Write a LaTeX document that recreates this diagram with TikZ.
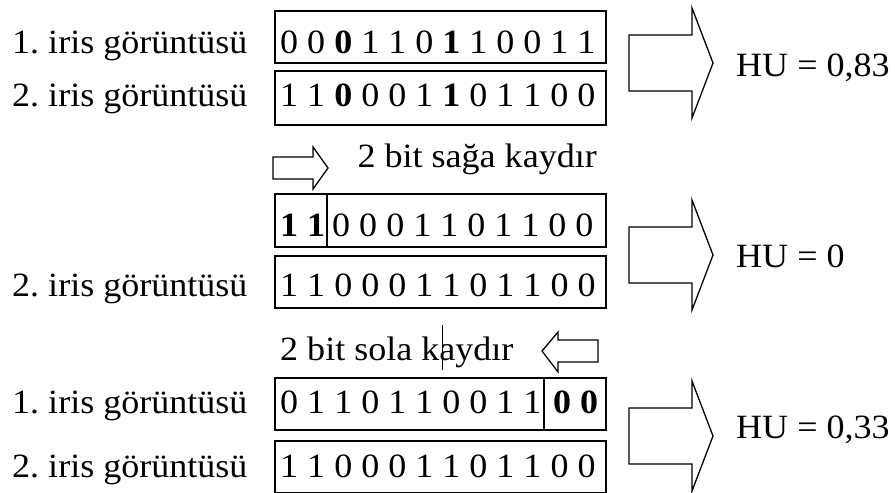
\documentclass[tikz,border=0pt]{standalone}
\usepackage{fontspec}
\setmainfont{Liberation Serif}[FakeStretch=1.06]
\frenchspacing
\begin{document}
\frenchspacing
\begin{tikzpicture}[x=1pt,y=-1pt,
  bitbox/.style={draw, line width=2pt, minimum width=331pt, inner sep=0pt, anchor=north west},
  txt/.style={inner sep=0pt, anchor=base west, font=\fontsize{34}{40}\selectfont\frenchspacing},
  txtr/.style={txt, anchor=base east},
  blockarrow/.style={draw, line width=1.3pt, line join=miter},
  divider/.style={line width=1.2pt}]
\useasboundingbox (0,0) rectangle (895,493);

% boxes
\node[bitbox, minimum height=52pt] (b1) at (274,10) {};
\node[bitbox, minimum height=54pt] (b2) at (274,70) {};
\node[bitbox, minimum height=53pt] (b3) at (274,193) {};
\node[bitbox, minimum height=52pt] (b4) at (274,255) {};
\node[bitbox, minimum height=52pt] (b5) at (274,377) {};
\node[bitbox, minimum height=52pt] (b6) at (274,440) {};

% dividers
\draw[divider] ([xshift=53pt]b3.north west) -- ([xshift=53pt]b3.south west);
\draw[divider] ([xshift=270pt]b5.north west) -- ([xshift=270pt]b5.south west);

% labels
\node[txt] (l1) at (12,53) {1. iris görüntüsü};
\node[txt] (l2) at (12,106) {2. iris görüntüsü};
\node[txt] (l4) at (12,296) {2. iris görüntüsü};
\node[txt] (l5) at (12,413) {1. iris görüntüsü};
\node[txt] (l6) at (12,477) {2. iris görüntüsü};

% bit strings
\node[txt] (t1) at (280,53) {0 0 \textbf{0} 1 1 0 \textbf{1} 1 0 0 1 1};
\node[txt] (t2) at (280,106) {1 1 \textbf{0} 0 0 1 \textbf{1} 0 1 1 0 0};
\node[txt] (t3a) at (280,236) {\textbf{1 1}};
\node[txt] (t3b) at (332,236) {0 0 0 1 1 0 1 1 0 0};
\node[txt] (t4) at (280,296) {1 1 0 0 0 1 1 0 1 1 0 0};
\node[txt] (t5a) at (280,413) {0 1 1 0 1 1 0 0 1 1};
\node[txt] (t5b) at (553,413) {\textbf{0 0}};
\node[txt] (t6) at (280,477) {1 1 0 0 0 1 1 0 1 1 0 0};

% shift captions
\node[txtr] (s1) at (597,167) {2 bit sağa kaydır};
\node[txt] (s2) at (280,360) {2 bit sola kaydır};
\draw[line width=1pt] (442,325) -- (442,370);

% small arrows
\draw[blockarrow] (273,157) -- (313,157) -- (313,147) -- (328,168) -- (313,189) -- (313,179) -- (273,179) -- cycle;
\draw[blockarrow] (598,340) -- (558,340) -- (558,332) -- (542,351) -- (558,372) -- (558,362) -- (598,362) -- cycle;

% big arrows
\foreach \c in {63,255,436}{
  \draw[blockarrow] (629,\c-28) -- (692,\c-28) -- (692,\c-55) -- (713,\c) -- (692,\c+55) -- (692,\c+28) -- (629,\c+28) -- cycle;
}

% results
\node[txt] (h1) at (736,76) {HU = 0,83};
\node[txt] (h2) at (736,267) {HU = 0};
\node[txt] (h3) at (736,438) {HU = 0,33};
\end{tikzpicture}
\end{document}
